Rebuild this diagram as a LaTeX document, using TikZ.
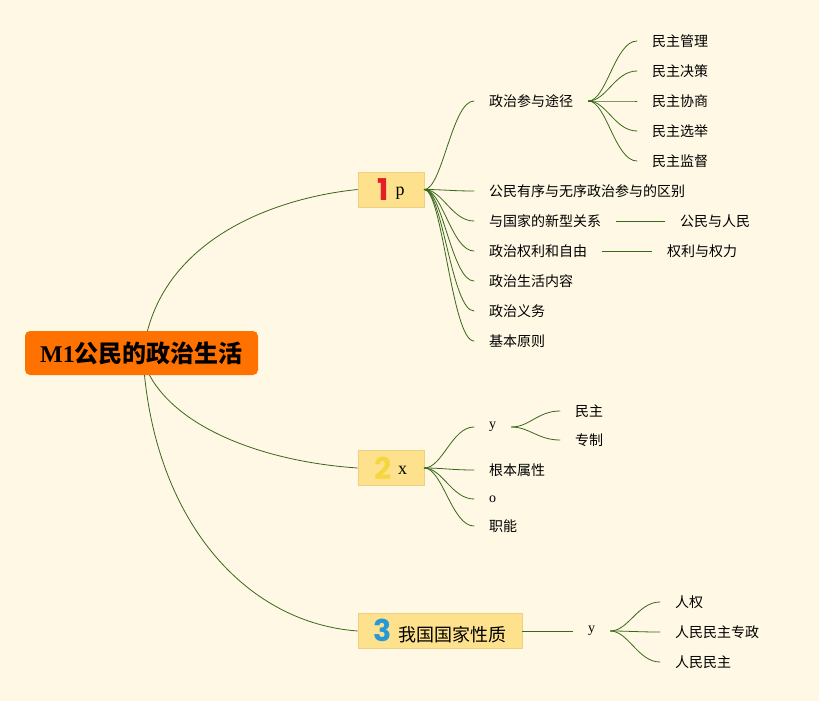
\documentclass[tikz,border=0pt]{standalone}
\usepackage{fontspec}
\setmainfont{Liberation Serif}
\newfontfamily\cjk{Noto Sans CJK SC}
\newfontfamily\numfont{Poppins}
\usetikzlibrary{positioning}
\definecolor{mapbg}{RGB}{254,248,228}
\definecolor{rootorange}{RGB}{255,114,0}
\definecolor{topicfill}{RGB}{254,225,140}
\definecolor{topicline}{RGB}{238,208,130}
\definecolor{linkgreen}{RGB}{58,104,26}
\definecolor{numred}{RGB}{226,30,40}
\definecolor{numyellow}{RGB}{246,214,62}
\definecolor{numblue}{RGB}{40,152,214}
\tikzset{
  topic-root/.style={
    fill=rootorange,
    rounded corners=5pt,
    minimum width=233pt,
    minimum height=44pt,
    inner sep=0pt,
    font=\fontsize{24}{26}\selectfont
  },
  topic-main/.style={
    fill=topicfill,
    draw=topicline,
    line width=0.6pt,
    minimum height=35pt,
    inner xsep=0pt,
    font=\fontsize{18}{20}\selectfont
  },
  topic-leaf/.style={
    anchor=west,
    inner xsep=15pt,
    inner ysep=2pt,
    font=\cjk\fontsize{14}{16}\selectfont
  },
  branch-link/.style={draw=linkgreen, line width=0.8pt},
  fan/.style={branch-link, line cap=round}
}
\newcommand{\topicnum}[2]{{\numfont\bfseries\fontsize{30}{30}\selectfont\color{#1}#2}}

\begin{document}
\begin{tikzpicture}[x=1pt, y=-1pt]
  \fill[mapbg] (0,0) rectangle (819,701);
  \useasboundingbox (0,0) rectangle (819,701);

  % root and main topics
  \node[topic-root] (root) at (141.5,353) {{\bfseries M1}{\cjk\bfseries 公民的政治生活}};
  \node[topic-main, minimum width=66pt] (p) at (391,189.5) {\topicnum{numred}{1}\hspace{7pt}\raisebox{5pt}{p}};
  \node[topic-main, minimum width=66pt] (x) at (391,468) {\topicnum{numyellow}{2}\hspace{6pt}\raisebox{5pt}{x}};
  \node[topic-main, minimum width=164pt] (q) at (440,631) {\topicnum{numblue}{3}\hspace{6pt}{\cjk 我国国家性质}};

  \draw[branch-link] ([xshift=6pt]root.north) .. controls +(25,-95) and +(-80,8) .. (p.west);
  \draw[branch-link] ([xshift=8pt]root.south) .. controls +(30,55) and +(-90,-6) .. (x.west);
  \draw[branch-link] ([xshift=3pt]root.south) .. controls +(15,150) and +(-110,-8) .. (q.west);

  % branch 1
  \foreach \name/\y/\txt in {a/101/政治参与途径, b/191/公民有序与无序政治参与的区别,
      c/221/与国家的新型关系, d/251/政治权利和自由, e/281/政治生活内容,
      f/311/政治义务, g/341/基本原则} {
    \node[topic-leaf] (p-\name) at (474,\y) {\txt};
    \draw[fan] (p.east) .. controls +(18,0) and +(-22,0) .. (p-\name.west);
  }
  \foreach \name/\y/\txt in {1/41/民主管理, 2/71/民主决策, 3/101/民主协商,
      4/131/民主选举, 5/161/民主监督} {
    \node[topic-leaf] (p-a\name) at (637,\y) {\txt};
    \draw[fan] (p-a.east) .. controls +(18,0) and +(-22,0) .. (p-a\name.west);
  }
  \node[topic-leaf] (p-c1) at (665,221) {公民与人民};
  \draw[branch-link] (p-c.east) -- (p-c1.west);
  \node[topic-leaf] (p-d1) at (652,251) {权利与权力};
  \draw[branch-link] (p-d.east) -- (p-d1.west);

  % branch 2
  \foreach \name/\y/\txt in {a/427/{\rmfamily y}, b/470/根本属性, c/499/{\rmfamily o}, d/526/职能} {
    \node[topic-leaf] (x-\name) at (474,\y) {\txt};
    \draw[fan] (x.east) .. controls +(18,0) and +(-22,0) .. (x-\name.west);
  }
  \foreach \name/\y/\txt in {1/411/民主, 2/440/专制} {
    \node[topic-leaf] (x-a\name) at (560,\y) {\txt};
    \draw[fan] (x-a.east) .. controls +(18,0) and +(-22,0) .. (x-a\name.west);
  }

  % branch 3
  \node[topic-leaf] (q-a) at (573,631) {\rmfamily y};
  \draw[branch-link] (q.east) -- (q-a.west);
  \foreach \name/\y/\txt in {1/602/人权, 2/632/人民民主专政, 3/662/人民民主} {
    \node[topic-leaf] (q-a\name) at (660,\y) {\txt};
    \draw[fan] (q-a.east) .. controls +(18,0) and +(-22,0) .. (q-a\name.west);
  }
\end{tikzpicture}
\end{document}
